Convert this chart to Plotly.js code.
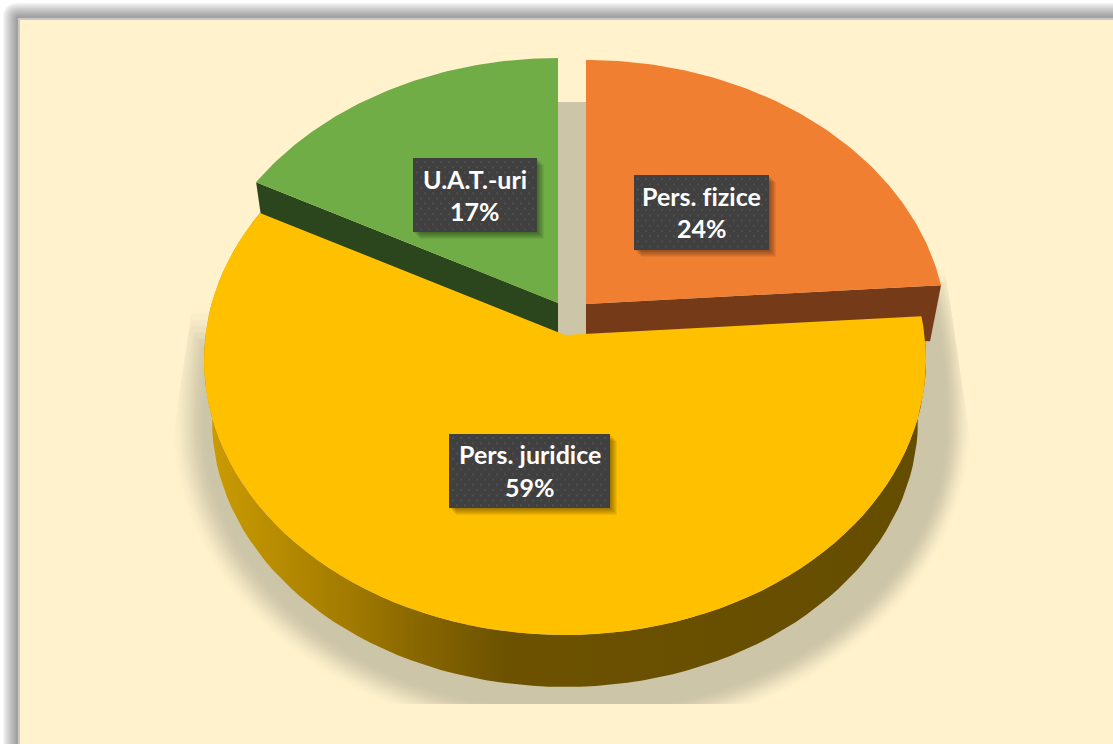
<!DOCTYPE html>
<html>
<head>
<meta charset="utf-8">
<script src="https://cdn.plot.ly/plotly-3.0.1.min.js"></script>
<style>html,body{margin:0;padding:0;background:#fff;overflow:hidden}#c{width:1113px;height:744px}
.annotation-text{font-variant-ligatures:none;font-feature-settings:"liga" 0}</style>
</head>
<body>
<div id="c"></div>
<script>
const categories = ['Pers. fizice', 'Pers. juridice', 'U.A.T.-uri'];
const shares = [23.9, 58.8, 17.3];
const topColors = ['#f07f31', '#ffc000', '#70ad47'];
const wallColors = ['#753a17', '#674e00', '#2b461c'];

// geometry of the exploded slices, in pixels of the hidden axes
const geom = [
  {cx:586, cy:335, apex:31, b:[175,250], bx:[634,769], ty:[196,228]},
  {cx:565, cy:360, apex:25, b:[434,508], bx:[449,610], ty:[454,487]},
  {cx:558, cy:333, apex:30, b:[158,232], bx:[413,537], ty:[179,211]}
];
const RX = 361, RY = 275;
const BG = '#fff2cc', SHADOW = '#cdc5a8';

function rim(phi, g){
  const k = g.apex / RY, c = Math.cos(phi), s = Math.sin(phi);
  const t = -k*c + Math.sqrt(k*k*c*c + 1 - k*k);
  return [g.cx + RX*t*s, g.cy - RY*(k + t*c)];
}
const total = shares.reduce((a,b)=>a+b,0);
let acc = 0;
const ranges = shares.map(v => { const r=[acc/total*2*Math.PI,(acc+v)/total*2*Math.PI]; acc+=v; return r; });

function arc(i){
  const pts=[], n=90, [a,b]=ranges[i];
  for(let j=0;j<=n;j++) pts.push(rim(a+(b-a)*j/n, geom[i]));
  return pts;
}
function poly(pts, color, extra){
  return Object.assign({type:'scatter', mode:'lines', x:pts.map(p=>p[0]), y:pts.map(p=>p[1]),
    fill:'toself', fillcolor:color, line:{width:0}, hoverinfo:'skip', showlegend:false, cliponaxis:true}, extra||{});
}
function mix(a,b,t){
  const h=s=>[1,3,5].map(i=>parseInt(s.substr(i,2),16));
  const A=h(a),B=h(b);
  return 'rgb('+A.map((v,i)=>Math.round(v+(B[i]-v)*t)).join(',')+')';
}

const traces = [];

// soft floor shadow
const LAYERS = 20;
for(let l=0;l<=LAYERS;l++){
  const f=l/LAYERS, cx=571+5*f, rx=403-34*f, ryB=318-33*f, ryT=345-20*f, pts=[];
  for(let j=0;j<=360;j++){
    const th=j/360*2*Math.PI, cy=425;
    const c=Math.cos(th), s=Math.sin(th);
    let x, y;
    if(c>0){ x=cx+rx*Math.sign(s)*Math.sqrt(Math.abs(s)); y=cy-ryT*c; }
    else   { x=cx+rx*s; y=cy-ryB*c; }
    y=Math.max(102,Math.min(704,y));
    const sl=Math.min(y-470,0)*0.15;
    x=Math.max(168-sl,Math.min(975+sl,x));
    if(y<(s>0?262+50*f:300+60*f)) x=Math.max(470,Math.min(680,x));
    pts.push([x,y]);
  }
  traces.push(poly(pts, mix(BG,SHADOW,(1-Math.cos(Math.PI*f))/2)));
}

// cut faces of green and orange
function cutWall(i, endPhi, dx, dy){
  const g=geom[i], p=rim(endPhi,g), ax=g.cx, ay=g.cy-g.apex;
  return poly([[ax,ay],p,[p[0]+dx,p[1]+dy],[ax,ay+32]], wallColors[i]);
}
traces.push(cutWall(2, ranges[2][0], 8, 56));
traces.push(cutWall(0, ranges[0][1], -11, 56));

// top faces of green and orange
[2,0].forEach(i=>{
  const g=geom[i];
  traces.push(poly([[g.cx,g.cy-g.apex]].concat(arc(i)), topColors[i], {name:categories[i]}));
});

// outer wall of the big slice
(function(){
  const top=arc(1), bottom=[];
  const BX=565,BY=420,BRX=353,BRY=267,g=geom[1];
  top.forEach(p=>{
    bottom.push([BX+(p[0]-g.cx)/RX*BRX, BY+(p[1]-g.cy)/RY*BRY]);
  });
  traces.push(poly(top.concat(bottom.reverse()), wallColors[1], {
    fillgradient:{type:'horizontal', start:205, stop:920,
      colorscale:[[0,'#cc9c00'],[0.1,'#b78c00'],[0.2,'#a27b00'],[0.3,'#886600'],[0.42,'#6c5200'],[1,'#654d00']]}
  }));
})();

// top face of the big slice
traces.push(poly([[geom[1].cx,geom[1].cy-geom[1].apex]].concat(arc(1)), topColors[1], {name:categories[1]}));

// label boxes
const annotations=[];
categories.forEach((cat,i)=>{
  const g=geom[i], [x0,x1]=g.bx, [y0,y1]=g.b;
  const rect=(d)=>[[x0+d,y0+d],[x1+d,y0+d],[x1+d,y1+d],[x0+d,y1+d],[x0+d,y0+d]];
  for(let d=7;d>=1;d--) traces.push(poly(rect(d),'rgba(0,0,0,0.06)'));
  traces.push(poly(rect(0),'#404040'));
  const dx=[],dy=[];
  let row=0;
  for(let y=y0+4;y<y1-2;y+=5.2,row++){
    for(let x=x0+4+(row%2?4:0);x<x1-2;x+=8){dx.push(x);dy.push(y);}
  }
  traces.push({type:'scatter',mode:'markers',x:dx,y:dy,marker:{symbol:'square',size:2,color:'#4e4e4e',line:{width:0}},hoverinfo:'skip',showlegend:false});
  [cat, Math.round(shares[i])+'%'].forEach((t,k)=>{
    annotations.push({x:(x0+x1)/2,y:g.ty[k],xref:'x',yref:'y',text:'<b>'+t+'</b>',showarrow:false,
      xanchor:'center',yanchor:'middle',font:{family:'Lato, "Noto Sans", sans-serif',size:25,color:'#ffffff'}});
  });
});

// frame: blurred grey band along the left and top edges
const shapes=[];
const STEPS=16;
for(let s=0;s<STEPS;s++){
  const f=s/(STEPS-1), p=2+s*0.98, r=16-s*0.9;
  shapes.push({type:'path',layer:'below',xref:'x',yref:'y',
    path:`M ${p},760 L ${p},${p+r} Q ${p},${p} ${p+r},${p} L 1130,${p} L 1130,760 Z`,
    fillcolor:mix('#ffffff','#9f9f9f',Math.pow(f,0.8)),line:{width:0}});
}
shapes.push({type:'rect',layer:'below',xref:'x',yref:'y',x0:18,y0:18,x1:1130,y1:760,fillcolor:'#c9c9c9',line:{width:0}});
shapes.push({type:'rect',layer:'below',xref:'x',yref:'y',x0:20,y0:20,x1:1130,y1:760,fillcolor:BG,line:{width:0}});

Plotly.newPlot('c', traces, {
  width:1113, height:744, margin:{l:0,r:0,t:0,b:0}, showlegend:false,
  paper_bgcolor:'#ffffff', plot_bgcolor:'rgba(0,0,0,0)',
  xaxis:{range:[0,1113],visible:false,fixedrange:true},
  yaxis:{range:[744,0],visible:false,fixedrange:true},
  shapes, annotations
},{displayModeBar:false,staticPlot:true});
</script>
</body>
</html>
